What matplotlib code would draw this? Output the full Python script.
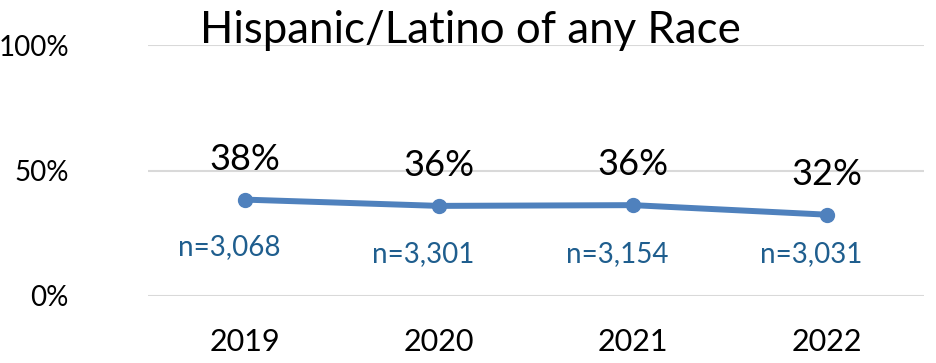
import matplotlib.pyplot as plt

years = ["2019", "2020", "2021", "2022"]
share = [38.4, 35.9, 36.2, 32.4]
n_sizes = [3068, 3301, 3154, 3031]
y_ticks = [0, 50, 100]

line_color = "#4F81BD"
n_color = "#1F5E8E"
grid_color = "#D9D9D9"

fig = plt.figure(figsize=(9.36, 3.63), dpi=100)
ax = fig.add_axes([148 / 936, 67 / 363, 776 / 936, 251 / 363])

x = list(range(len(years)))
ax.plot(x, share, color=line_color, lw=4.3, marker="o", ms=10,
        solid_capstyle="round", zorder=3)

# value labels above each point, sample sizes below
n_y = [19.5, 16.7, 16.7, 16.7]
for i, v in enumerate(share):
    ax.annotate(f"{v:.0f}%", (x[i], v), xytext=(0, 29), textcoords="offset points",
                ha="center", va="center", fontsize=26, family="Lato", color="black")
    ax.text(x[i] - 0.08, n_y[i], f"n={n_sizes[i]:,}", ha="center", va="center",
            fontsize=20, family="Lato", color=n_color)

ax.set_xlim(-0.5, len(years) - 0.5)
ax.set_ylim(0, 100)
ax.set_yticks(y_ticks)
ax.set_yticklabels([f"{t}%" for t in y_ticks], family="Lato", fontsize=20)
ax.set_xticks(x)
ax.set_xticklabels(years, family="Lato", fontsize=22)
ax.tick_params(axis="y", length=0, pad=57)
ax.tick_params(axis="x", length=0, pad=23)
ax.grid(axis="y", color=grid_color, lw=1.5)
ax.set_axisbelow(True)
for s in ax.spines.values():
    s.set_visible(False)

fig.text(470 / 936, 1 - 43 / 363, "Hispanic/Latino of any Race", ha="center",
         va="baseline", fontsize=31.5, family="Lato")

fig.savefig("out.png", dpi=100)
